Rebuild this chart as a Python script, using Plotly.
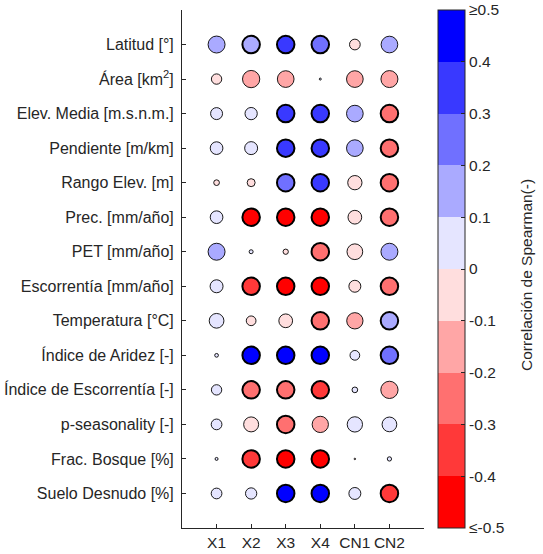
import plotly.graph_objects as go
import numpy as np

# ---------------- data ----------------
variables = ["Latitud [°]", "Área [km<sup>2</sup>]", "Elev. Media [m.s.n.m.]", "Pendiente [m/km]",
             "Rango Elev. [m]", "Prec. [mm/año]", "PET [mm/año]", "Escorrentía [mm/año]",
             "Temperatura [°C]", "Índice de Aridez [-]", "Índice de Escorrentía [-]",
             "p-seasonality [-]", "Frac. Bosque [%]", "Suelo Desnudo [%]"]
parametros = ["X1", "X2", "X3", "X4", "CN1", "CN2"]

# Spearman correlation per parameter (one value per variable, top to bottom)
r_X1 = [0.113, -0.042, 0.056, 0.063, -0.0127, 0.063, 0.113, 0.066, 0.085, 0.0054, 0.042, 0.045, 0.0035, 0.045]
r_X2 = [0.16, -0.117, 0.059, 0.066, -0.025, -0.55, 0.0063, -0.38, -0.037, 0.52, -0.27, -0.088, -0.38, 0.05]
r_X3 = [0.36, -0.109, 0.35, 0.36, 0.27, -0.52, -0.011, -0.52, -0.074, 0.53, -0.26, -0.27, -0.52, 0.53]
r_X4 = [0.27, 0.0016, 0.38, 0.37, 0.36, -0.53, -0.27, -0.51, -0.27, 0.51, -0.33, -0.104, -0.53, 0.52]
r_CN1 = [-0.045, -0.109, 0.109, 0.109, -0.080, -0.074, -0.097, -0.056, -0.104, 0.037, 0.0127, 0.092, -0.0009, 0.056]
r_CN2 = [0.109, -0.113, -0.26, -0.27, -0.26, -0.27, 0.113, -0.27, 0.16, 0.27, -0.117, 0.085, 0.0072, -0.36]

# significance flags (1 = significant, drawn with thick edge)
sig_X1 = [0, 0, 0, 0, 0, 0, 0, 0, 0, 0, 0, 0, 0, 0]
sig_X2 = [1, 0, 0, 0, 0, 1, 0, 1, 0, 1, 1, 0, 1, 0]
sig_X3 = [1, 0, 1, 1, 1, 1, 0, 1, 0, 1, 1, 1, 1, 1]
sig_X4 = [1, 0, 1, 1, 1, 1, 1, 1, 1, 1, 1, 0, 1, 1]
sig_CN1 = [0, 0, 0, 0, 0, 0, 0, 0, 0, 0, 0, 0, 0, 0]
sig_CN2 = [0, 0, 1, 1, 1, 1, 0, 1, 1, 1, 0, 0, 0, 1]

cb_ticks = [-0.5, -0.4, -0.3, -0.2, -0.1, 0, 0.1, 0.2, 0.3, 0.4, 0.5]
cb_ticktext = ["≤-0.5", "-0.4", "-0.3", "-0.2", "-0.1", "0", "0.1", "0.2", "0.3", "0.4", "≥0.5"]
cb_title = "Correlación de Spearman(-)"

# ---------------- styling ----------------
bin_colors = ["rgb(255,0,0)", "rgb(255,57,57)", "rgb(255,112,112)", "rgb(255,166,166)", "rgb(255,222,222)",
              "rgb(229,229,255)", "rgb(170,170,255)", "rgb(112,112,255)", "rgb(57,57,255)", "rgb(0,0,255)"]
colorscale = []
n = len(bin_colors)
for i, c in enumerate(bin_colors):
    colorscale.append([i / n, c])
    colorscale.append([(i + 1) / n, c])

SMAX = 17.5
CAP = 0.12
TXT = "#262626"
FONT = "Liberation Sans, Arial, sans-serif"

r_cols = [r_X1, r_X2, r_X3, r_X4, r_CN1, r_CN2]
s_cols = [sig_X1, sig_X2, sig_X3, sig_X4, sig_CN1, sig_CN2]

xs, ys, cs, sizes, lws = [], [], [], [], []
for j, (rc, sc) in enumerate(zip(r_cols, s_cols)):
    for i, (r, s) in enumerate(zip(rc, sc)):
        xs.append(j + 1)
        ys.append(i + 1)
        cs.append(r)
        sizes.append(max(SMAX * np.sqrt(min(abs(r), CAP) / CAP), 1.0))
        lws.append(2.0 if s else 0.9)

fig = go.Figure()
fig.add_trace(go.Scatter(
    x=xs, y=ys, mode="markers", hoverinfo="skip", showlegend=False,
    marker=dict(
        size=sizes, sizemode="diameter", opacity=1,
        color=cs, colorscale=colorscale, cmin=-0.5, cmax=0.5,
        line=dict(color="black", width=lws),
        colorbar=dict(
            x=1 + (437.5 - 424) / 242, xanchor="left", xpad=0,
            y=0.5, yanchor="middle", ypad=0, len=1.0, lenmode="fraction",
            thickness=27, outlinecolor=TXT, outlinewidth=1,
            tickvals=cb_ticks, ticktext=cb_ticktext,
            ticks="inside", ticklen=4, tickcolor=TXT,
            tickfont=dict(family=FONT, size=15.5, color=TXT),
        ),
    ),
))

fig.add_annotation(
    text=cb_title, textangle=-90, showarrow=False,
    xref="paper", yref="paper", x=(526 - 182) / 242, y=(528 - 275) / 518,
    xanchor="center", yanchor="middle",
    font=dict(family=FONT, size=15.5, color=TXT),
)

fig.update_xaxes(
    range=[0, 7], tickvals=list(range(1, len(parametros) + 1)), ticktext=parametros,
    showline=True, linecolor=TXT, linewidth=1, ticks="inside", ticklen=4, tickcolor=TXT,
    showgrid=False, zeroline=False, tickfont=dict(family=FONT, size=15.5, color=TXT),
    ticklabelstandoff=0, tickangle=0, automargin=False,
)
fig.update_yaxes(
    range=[15, 0], tickvals=list(range(1, len(variables) + 1)), ticktext=variables,
    showline=True, linecolor=TXT, linewidth=1, ticks="inside", ticklen=4, tickcolor=TXT,
    showgrid=False, zeroline=False, tickfont=dict(family=FONT, size=16, color=TXT),
    ticklabelstandoff=4, automargin=False,
)
fig.update_layout(
    width=543, height=554,
    margin=dict(l=182, r=119, t=10, b=26, autoexpand=False),
    plot_bgcolor="white", paper_bgcolor="white",
    font=dict(family=FONT, size=16, color=TXT),
)
fig.write_html("out.html")
